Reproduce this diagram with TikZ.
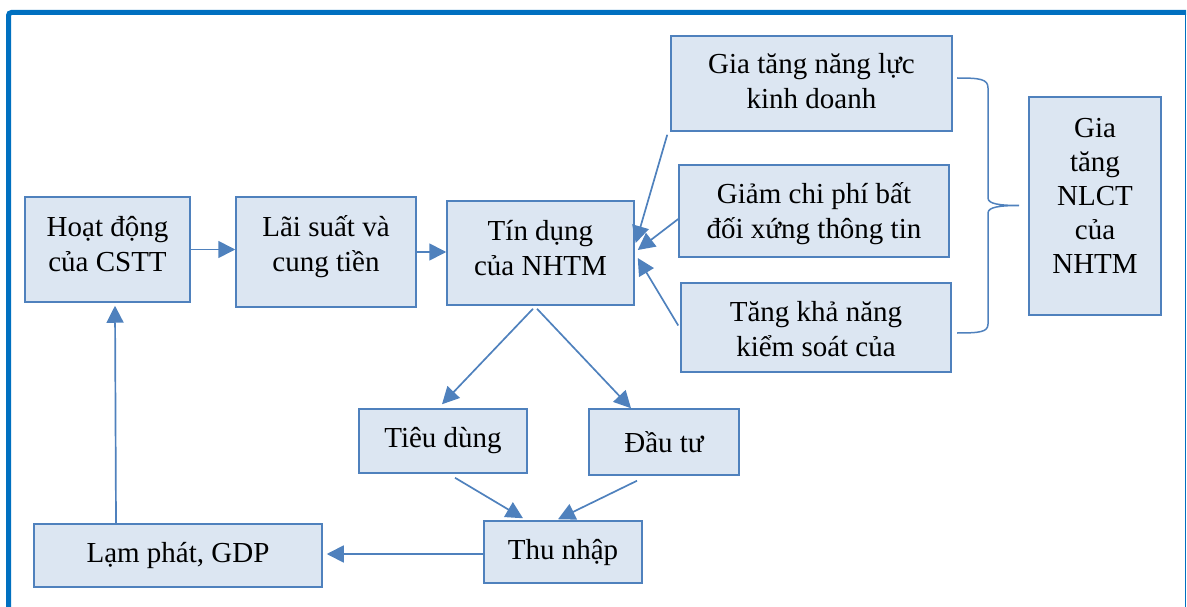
\documentclass[tikz,border=0pt]{standalone}
\usepackage{fontspec}
\setmainfont{Liberation Serif}
\usetikzlibrary{arrows.meta}
\definecolor{boxfill}{HTML}{DCE6F2}
\definecolor{boxline}{HTML}{4F81BD}
\definecolor{framec}{HTML}{0070C0}
\begin{document}
\begin{tikzpicture}[x=1pt,y=-1pt,
  box/.style={draw=boxline, fill=boxfill, line width=1.5pt, rectangle, inner sep=0pt},
  txt/.style={inner sep=0pt, align=center, font=\fontsize{29}{35}\selectfont},
  arr/.style={draw=boxline, line width=1.7pt,
    -{Triangle[length=17pt,width=17pt]}}]
\useasboundingbox (0,0) rectangle (1187,607);
% outer frame
\draw[framec, line width=5pt, rounded corners=3pt] (8.5,610) -- (8.5,12.5) -- (1186,12.5);
\draw[framec, line width=1.5pt] (1185.5,12) -- (1185.5,610);

% boxes
\node[box, minimum width=165pt, minimum height=105pt] (cstt) at (107.5,249.5) {};
\node[box, minimum width=180pt, minimum height=110pt] (ls) at (326,252) {};
\node[box, minimum width=187pt, minimum height=104pt] (td) at (540.5,253) {};
\node[box, minimum width=281pt, minimum height=95pt] (kd) at (811.5,83.5) {};
\node[box, minimum width=270pt, minimum height=92pt] (gc) at (814,211) {};
\node[box, minimum width=270pt, minimum height=89pt] (tk) at (816,327.5) {};
\node[box, minimum width=132pt, minimum height=218pt] (nlct) at (1095,206) {};
\node[box, minimum width=168pt, minimum height=64pt] (tdg) at (443,441) {};
\node[box, minimum width=150pt, minimum height=66pt] (dt) at (664,442) {};
\node[box, minimum width=158pt, minimum height=62pt] (tn) at (563,552) {};
\node[box, minimum width=288pt, minimum height=63pt] (lp) at (178,555.5) {};

% box texts
\node[txt] (cstt-t) at ([shift={(0,-5.5)}]cstt.center) {Hoạt động\\của CSTT};
\node[txt] (ls-t) at ([shift={(0,-5)}]ls.center) {Lãi suất và\\cung tiền};
\node[txt] (td-t) at ([shift={(0,-5)}]td.center) {Tín dụng\\của NHTM};
\node[txt] (kd-t) at ([shift={(0,-2)}]kd.center) {Gia tăng năng lực\\kinh doanh};
\node[txt] (gc-t) at ([shift={(0,2.5)}]gc.center) {Giảm chi phí bất\\đối xứng thông tin};
\node[txt] (tk-t) at ([shift={(0,1.5)}]tk.center) {Tăng khả năng\\kiểm soát của};
\node[txt, font=\fontsize{29}{34}\selectfont] (nlct-t) at ([shift={(0,-10)}]nlct.center) {Gia\\tăng\\NLCT\\của\\NHTM};
\node[txt] (tdg-t) at (tdg.center) {Tiêu dùng};
\node[txt] (dt-t) at (dt.center) {Đầu tư};
\node[txt] (tn-t) at (tn.center) {Thu nhập};
\node[txt] (lp-t) at (lp.center) {Lạm phát, GDP};

% connectors
\draw[arr] (cstt.east) -- (cstt.east -| ls.west);
\draw[arr] (ls.east) -- (ls.east -| td.west);
\draw[arr] ([shift={(-3,3)}]kd.south west) -- ([shift={(1,-10)}]td.east);
\draw[arr] ([shift={(0,8)}]gc.west) -- ([shift={(3,-3)}]td.east);
\draw[arr] ([shift={(-2,-2)}]tk.west) -- ([shift={(3,5)}]td.east);
\draw[arr] ([shift={(-7.5,3)}]td.south) -- ([shift={(-1,-4)}]tdg.north);
\draw[arr] ([shift={(-3.5,3)}]td.south) -- ([shift={(-33,0)}]dt.north);
\draw[arr] ([shift={(12,4)}]tdg.south) -- ([shift={(-40,-2)}]tn.north);
\draw[arr] ([shift={(-27,5)}]dt.south) -- ([shift={(-5,-1)}]tn.north);
\draw[arr] ([shift={(0,2)}]tn.west) -- ([shift={(4,-1.5)}]lp.east);
\draw[arr] ([shift={(-62,0)}]lp.north) -- ([shift={(7.5,3)}]cstt.south);

% brace grouping the three factors
\draw[boxline, line width=1.5pt]
  (957,78) .. controls (980,78) and (988,79) .. (988,88)
  -- (988,198) .. controls (988,204) and (1000,205.5) .. (1019,205.5)
  .. controls (1000,205.5) and (988,207) .. (988,213)
  -- (988,324) .. controls (988,332) and (980,333) .. (957,333);
\end{tikzpicture}
\end{document}
